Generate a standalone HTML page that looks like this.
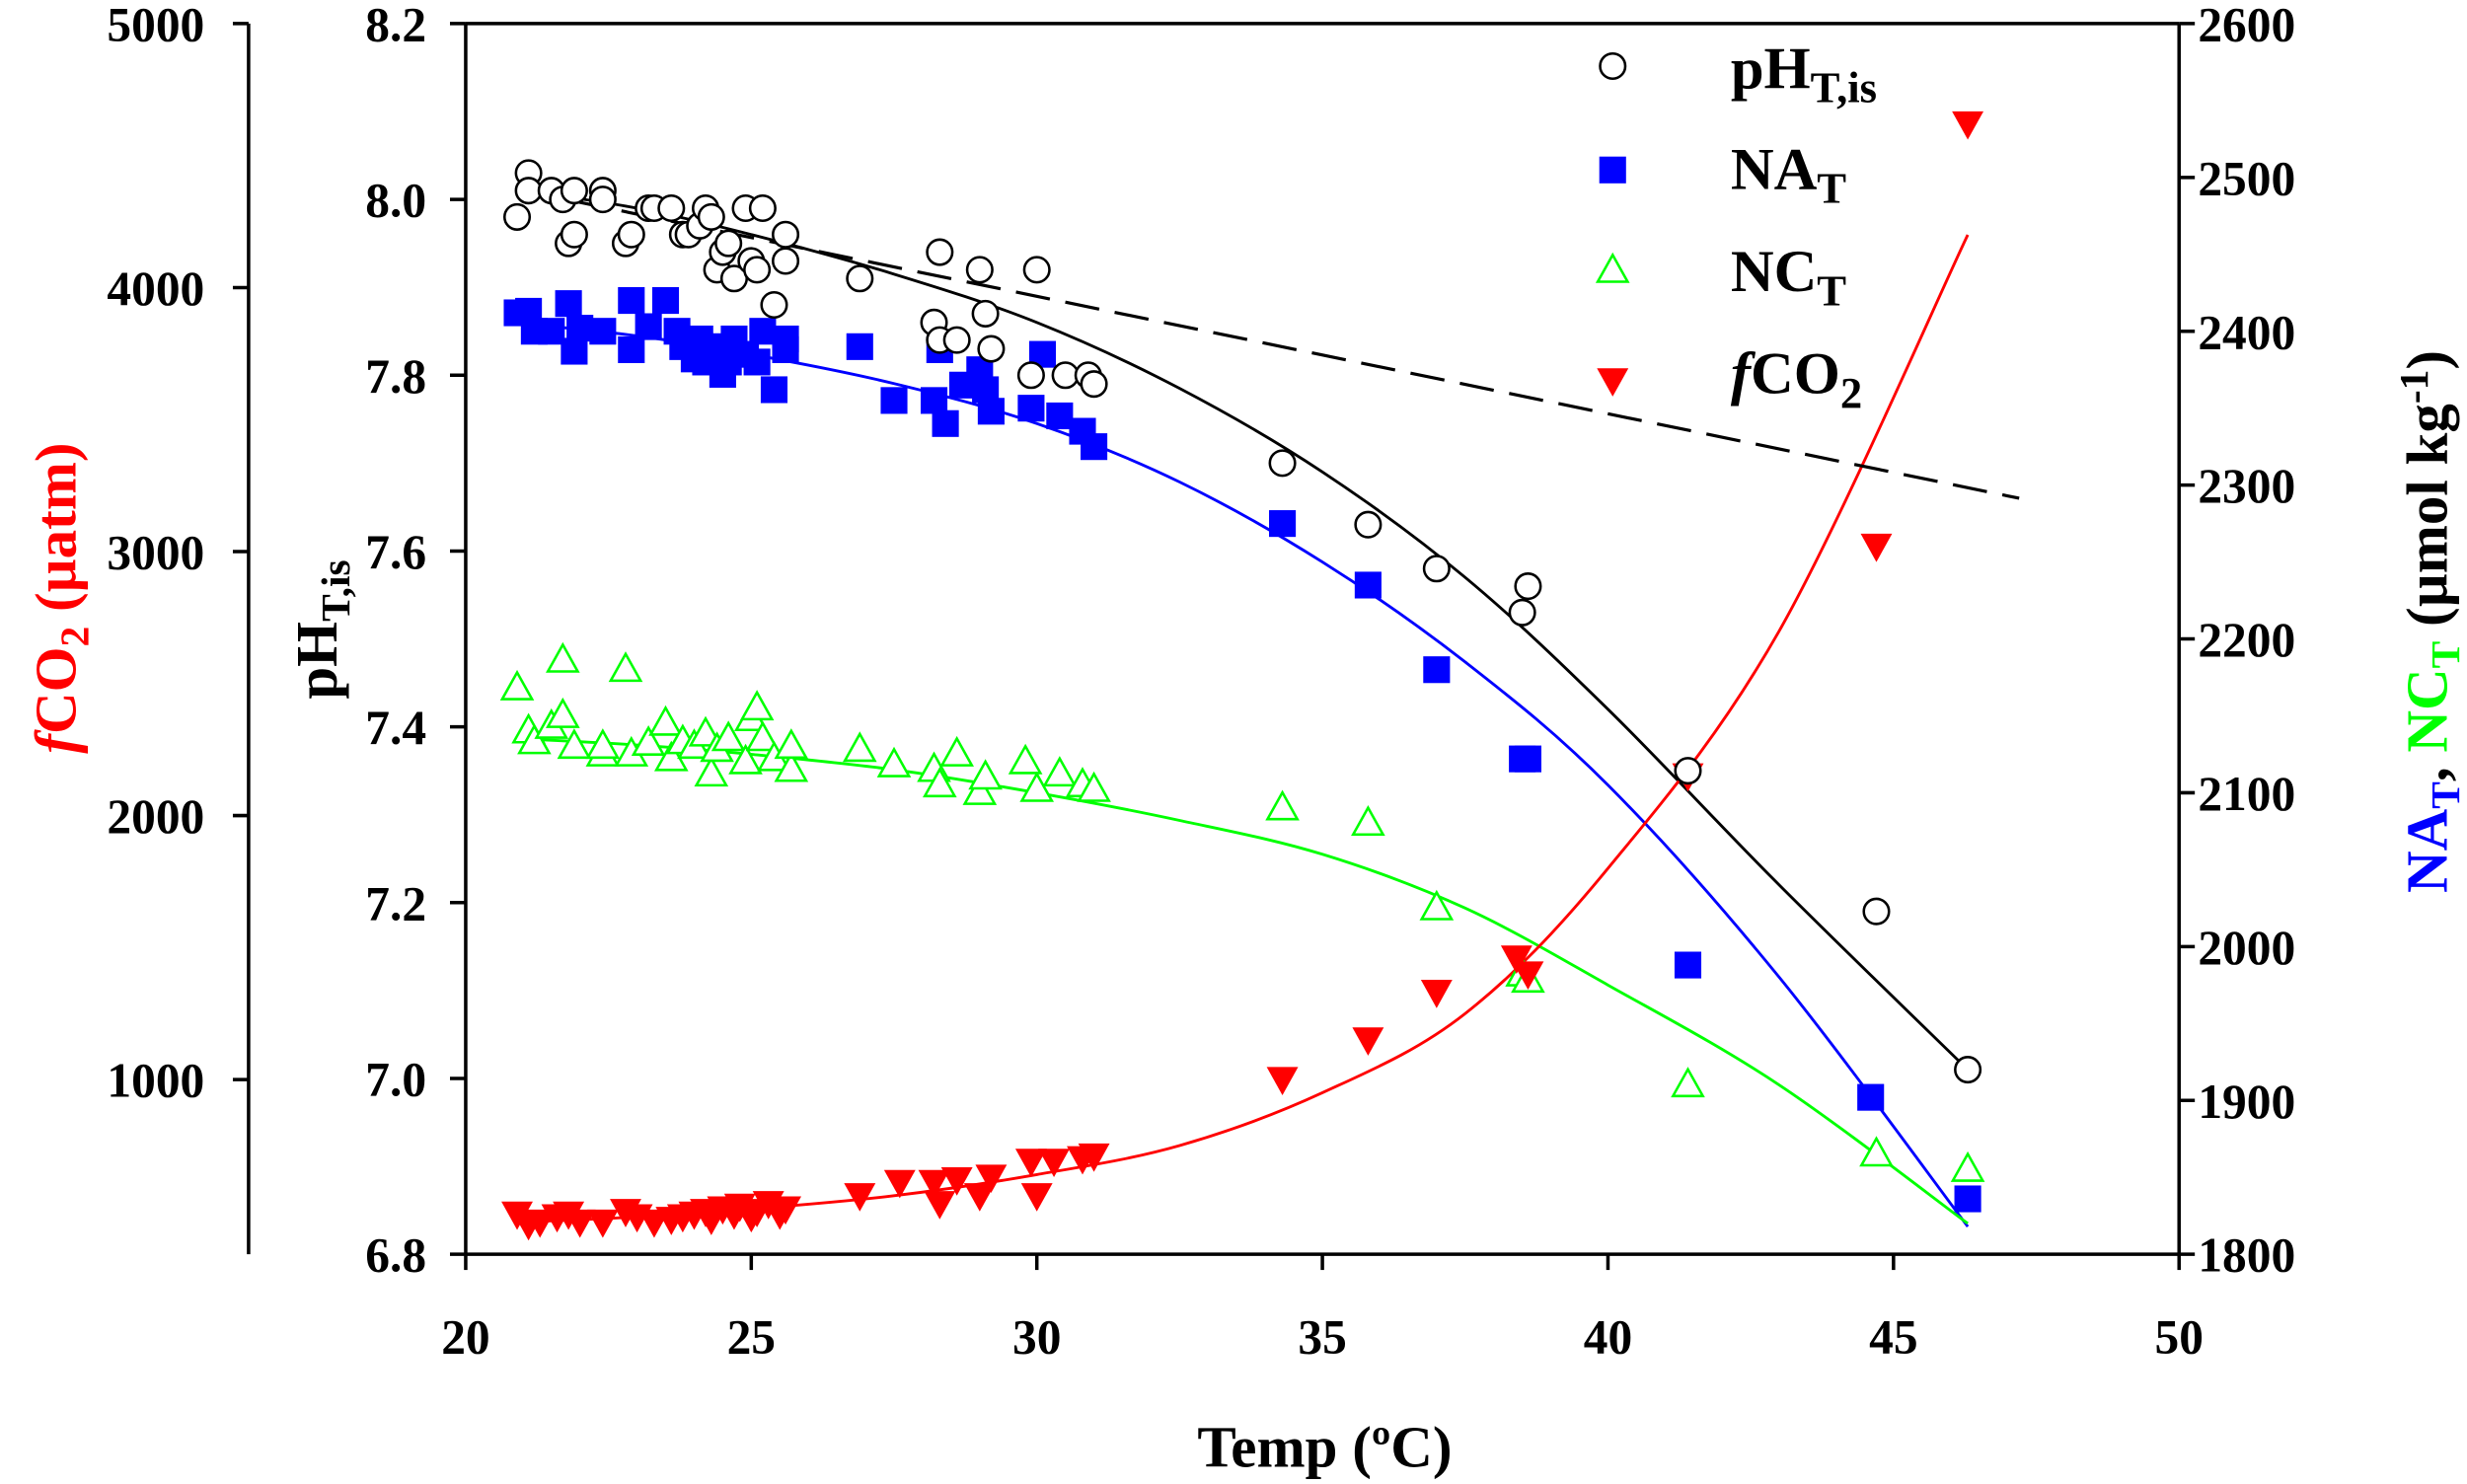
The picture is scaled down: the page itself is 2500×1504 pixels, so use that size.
<!DOCTYPE html>
<html><head><meta charset="utf-8"><style>
html,body{margin:0;padding:0;background:#fff}
svg{display:block}
text{font-family:"Liberation Serif",serif;font-weight:bold}
</style></head><body>
<svg id="chart" width="2500" height="1504" viewBox="0 0 1568 943" preserveAspectRatio="none">
<g id="axes"></g>
<g id="curves"></g>
<g id="marks"></g>
<g id="legend"></g>
</svg>
<script>
const xTicks=[20,25,30,35,40,45,50];
const phTicks=[6.8,7.0,7.2,7.4,7.6,7.8,8.0,8.2];
const rTicks=[1800,1900,2000,2100,2200,2300,2400,2500,2600];
const fTicks=[1000,2000,3000,4000,5000];
const phT=[20.9,21.1,21.1,21.5,21.7,21.9,21.8,21.9,22.4,22.4,22.8,22.9,23.2,23.3,23.6,23.8,23.9,24.1,24.2,24.3,24.4,24.5,24.6,24.7,24.9,25.0,25.1,25.2,25.4,25.6,25.6,26.9,28.2,28.3,28.3,28.6,29.0,29.1,29.2,29.9,30.0,30.5,30.9,31.0,34.3,35.8,37.0,38.5,38.6,41.4,44.7,46.3];
const phV=[7.98,8.03,8.01,8.01,8.0,8.01,7.95,7.96,8.01,8.0,7.95,7.96,7.99,7.99,7.99,7.96,7.96,7.97,7.99,7.98,7.92,7.94,7.95,7.91,7.99,7.93,7.92,7.99,7.88,7.93,7.96,7.91,7.86,7.94,7.84,7.84,7.92,7.87,7.83,7.80,7.92,7.80,7.80,7.79,7.70,7.63,7.58,7.53,7.56,7.35,7.19,7.01];
const naT=[20.9,21.1,21.2,21.5,21.8,21.9,22.0,22.4,22.9,22.9,23.2,23.5,23.7,23.8,24.0,24.1,24.2,24.4,24.5,24.6,24.7,24.9,25.1,25.2,25.4,25.6,25.6,26.9,27.5,28.2,28.3,28.4,28.7,29.0,29.1,29.2,29.9,30.1,30.4,30.8,31.0,34.3,35.8,37.0,38.5,38.6,41.4,44.6,46.3];
const naV=[2412,2413,2400,2400,2418,2387,2402,2400,2388,2420,2403,2420,2400,2390,2382,2395,2380,2390,2372,2380,2395,2385,2380,2400,2362,2388,2395,2390,2355,2355,2388,2340,2365,2375,2362,2348,2350,2385,2345,2335,2325,2275,2235,2180,2122,2122,1988,1902,1836];
const ncT=[20.9,21.1,21.2,21.5,21.7,21.7,21.9,22.4,22.4,22.8,22.9,23.2,23.5,23.6,23.8,24.0,24.2,24.3,24.4,24.6,24.9,25.0,25.1,25.2,25.4,25.7,25.7,26.9,27.5,28.2,28.3,28.6,29.0,29.1,29.8,30.0,30.4,30.8,31.0,34.3,35.8,37.0,38.5,38.6,41.4,44.7,46.3];
const ncV=[2168,2140,2133,2143,2150,2186,2130,2125,2130,2180,2125,2132,2145,2122,2133,2130,2138,2112,2128,2135,2120,2148,2155,2135,2122,2115,2130,2128,2118,2115,2105,2125,2100,2110,2120,2102,2112,2105,2102,2090,2080,2025,1982,1978,1910,1865,1855];
const fT=[20.9,21.1,21.3,21.6,21.8,22.0,22.4,22.8,23.0,23.3,23.6,23.8,24.0,24.2,24.3,24.5,24.7,24.8,25.0,25.1,25.3,25.5,25.6,26.9,27.6,28.2,28.3,28.6,29.0,29.2,29.9,30.0,30.3,30.8,31.0,34.3,35.8,37.0,38.4,38.6,41.4,44.7,46.3];
const fV=[490,450,460,480,490,460,460,500,480,460,470,480,490,500,470,510,490,520,480,500,530,490,510,560,610,610,530,620,560,630,690,560,690,700,710,1000,1150,1330,1460,1400,2150,3020,4620];
const cT=[21,23,25,27.5,30,32.5,35,37.5,40,43,46.3];
const cPH=[8.01,7.99,7.96,7.915,7.86,7.785,7.69,7.57,7.42,7.22,7.01];
const cNA=[2405,2397,2385,2366,2340,2302,2250,2185,2105,1980,1818];
const cNC=[2135,2131,2125,2115,2100,2082,2060,2025,1975,1910,1820];
const cF=[460,480,510,560,640,750,950,1250,1800,2700,4200];
const dashT=[21,47.2], dashPH=[8.01,7.66];

const X=t=>296+(t-20)*(1385-296)/30;
const YP=v=>797-(v-6.8)*(797-15)/1.4;
const YR=v=>797-(v-1800)*(797-15)/800;
const YF=v=>686-(v-1000)*(686-15)/4000;
const NS='http://www.w3.org/2000/svg';
function mk(tag,attrs,parent){const e=document.createElementNS(NS,tag);for(const k in attrs)e.setAttribute(k,attrs[k]);parent.appendChild(e);return e;}
const ax=document.getElementById('axes'),cv=document.getElementById('curves'),mg=document.getElementById('marks'),lg=document.getElementById('legend');
const S={stroke:'#000','stroke-width':2.2,fill:'none'};
let l;
l=mk('line',Object.assign({x1:296,y1:15,x2:1385,y2:15},S),ax);
l=mk('line',Object.assign({x1:296,y1:797,x2:1385,y2:797},S),ax);
l=mk('line',Object.assign({x1:296,y1:15,x2:296,y2:797},S),ax);
l=mk('line',Object.assign({x1:1385,y1:15,x2:1385,y2:797},S),ax);
l=mk('line',Object.assign({x1:158,y1:15,x2:158,y2:797},S),ax);
function tl(x,y,s,anchor,name,fill){const t=mk('text',{x:x,y:y,'font-size':31,'text-anchor':anchor,fill:fill||'#000'},ax);t.textContent=s;return t;}
xTicks.forEach(v=>{const e=mk('line',Object.assign({x1:X(v),y1:797,x2:X(v),y2:807},S),ax);tl(X(v),860,String(v),'middle','x-tick-label');});
phTicks.forEach(v=>{const e=mk('line',Object.assign({x1:286,y1:YP(v),x2:296,y2:YP(v)},S),ax);tl(271,YP(v)+11,v.toFixed(1),'end','ph-tick-label');});
rTicks.forEach(v=>{const e=mk('line',Object.assign({x1:1385,y1:YR(v),x2:1395,y2:YR(v)},S),ax);tl(1397,YR(v)+11,String(v),'start','right-tick-label');});
fTicks.forEach(v=>{const e=mk('line',Object.assign({x1:148,y1:YF(v),x2:158,y2:YF(v)},S),ax);tl(130,YF(v)+11,String(v),'end','fco2-tick-label');});
let t=mk('text',{x:842,y:932,'font-size':37,'text-anchor':'middle'},ax);t.textContent='Temp (ºC)';
t=mk('text',{x:0,y:0,'font-size':37,'text-anchor':'middle',fill:'#f00',transform:'translate(48,380) rotate(-90)'},ax);
t.innerHTML='<tspan font-style="italic">f</tspan>CO<tspan font-size="26" dy="8">2</tspan><tspan dy="-8"> (µatm)</tspan>';
t=mk('text',{x:0,y:0,'font-size':37,'text-anchor':'middle',transform:'translate(214,400) rotate(-90)'},ax);
t.innerHTML='pH<tspan font-size="26" dy="8">T,is</tspan>';
t=mk('text',{x:0,y:0,'font-size':37,'text-anchor':'middle',transform:'translate(1555,395) rotate(-90)'},ax);
t.innerHTML='<tspan fill="#00f">NA<tspan font-size="26" dy="8">T</tspan></tspan><tspan dy="-8">, </tspan><tspan fill="#0f0">NC<tspan font-size="26" dy="8">T</tspan></tspan><tspan dy="-8"> (µmol kg</tspan><tspan font-size="26" dy="-12">-1</tspan><tspan dy="12">)</tspan>';

function smooth(ts,vs,Y){const p=ts.map((a,i)=>[X(a),Y(vs[i])]);let d='M'+p[0][0]+','+p[0][1];
for(let i=0;i<p.length-1;i++){const p0=p[i-1]||p[i],p1=p[i],p2=p[i+1],p3=p[i+2]||p2;
d+=' C'+(p1[0]+(p2[0]-p0[0])/6)+','+(p1[1]+(p2[1]-p0[1])/6)+' '+(p2[0]-(p3[0]-p1[0])/6)+','+(p2[1]-(p3[1]-p1[1])/6)+' '+p2[0]+','+p2[1];}return d;}
let c;
c=mk('path',{d:smooth(cT,cPH,YP),stroke:'#000','stroke-width':1.8,fill:'none'},cv);
c=mk('path',{d:smooth(cT,cNA,YR),stroke:'#00f','stroke-width':1.8,fill:'none'},cv);
c=mk('path',{d:smooth(cT,cNC,YR),stroke:'#0f0','stroke-width':1.8,fill:'none'},cv);
c=mk('path',{d:smooth(cT,cF,YF),stroke:'#f00','stroke-width':1.8,fill:'none'},cv);
c=mk('line',{x1:X(dashT[0]),y1:YP(dashPH[0]),x2:X(dashT[1]),y2:YP(dashPH[1]),stroke:'#000','stroke-width':2,'stroke-dasharray':'22,10'},cv);

function circ(x,y,p){return mk('circle',{cx:x,cy:y,r:8,fill:'#fff',stroke:'#000','stroke-width':1.6},p);}
function sq(x,y,p){return mk('rect',{x:x-8.5,y:y-8.5,width:17,height:17,fill:'#00f'},p);}
function tri(x,y,p){return mk('path',{d:`M${x},${y-10} L${x+9.5},${y+7} L${x-9.5},${y+7} Z`,fill:'#fff',stroke:'#0f0','stroke-width':1.6},p);}
function itri(x,y,p){return mk('path',{d:`M${x-10},${y-8} L${x+10},${y-8} L${x},${y+10} Z`,fill:'#f00'},p);}
ncT.forEach((a,i)=>{const e=tri(X(a),YR(ncV[i]),mg);});
fT.forEach((a,i)=>{const e=itri(X(a),YF(fV[i]),mg);});
naT.forEach((a,i)=>{const e=sq(X(a),YR(naV[i]),mg);});
phT.forEach((a,i)=>{const e=circ(X(a),YP(phV[i]),mg);});

let m;
m=circ(1025,42,lg);
m=sq(1025,108,lg);
m=tri(1025,172,lg);
m=itri(1025,242,lg);
function lt(y,html,name){const e=mk('text',{x:1100,y:y,'font-size':38},lg);e.innerHTML=html;}
lt(56,'pH<tspan font-size="28" dy="9">T,is</tspan>','legend-ph-label');
lt(120,'NA<tspan font-size="28" dy="9">T</tspan>','legend-na-label');
lt(185,'NC<tspan font-size="28" dy="9">T</tspan>','legend-nc-label');
lt(250,'<tspan font-style="italic">f</tspan>CO<tspan font-size="28" dy="9">2</tspan>','legend-fco2-label');
</script>
</body></html>
